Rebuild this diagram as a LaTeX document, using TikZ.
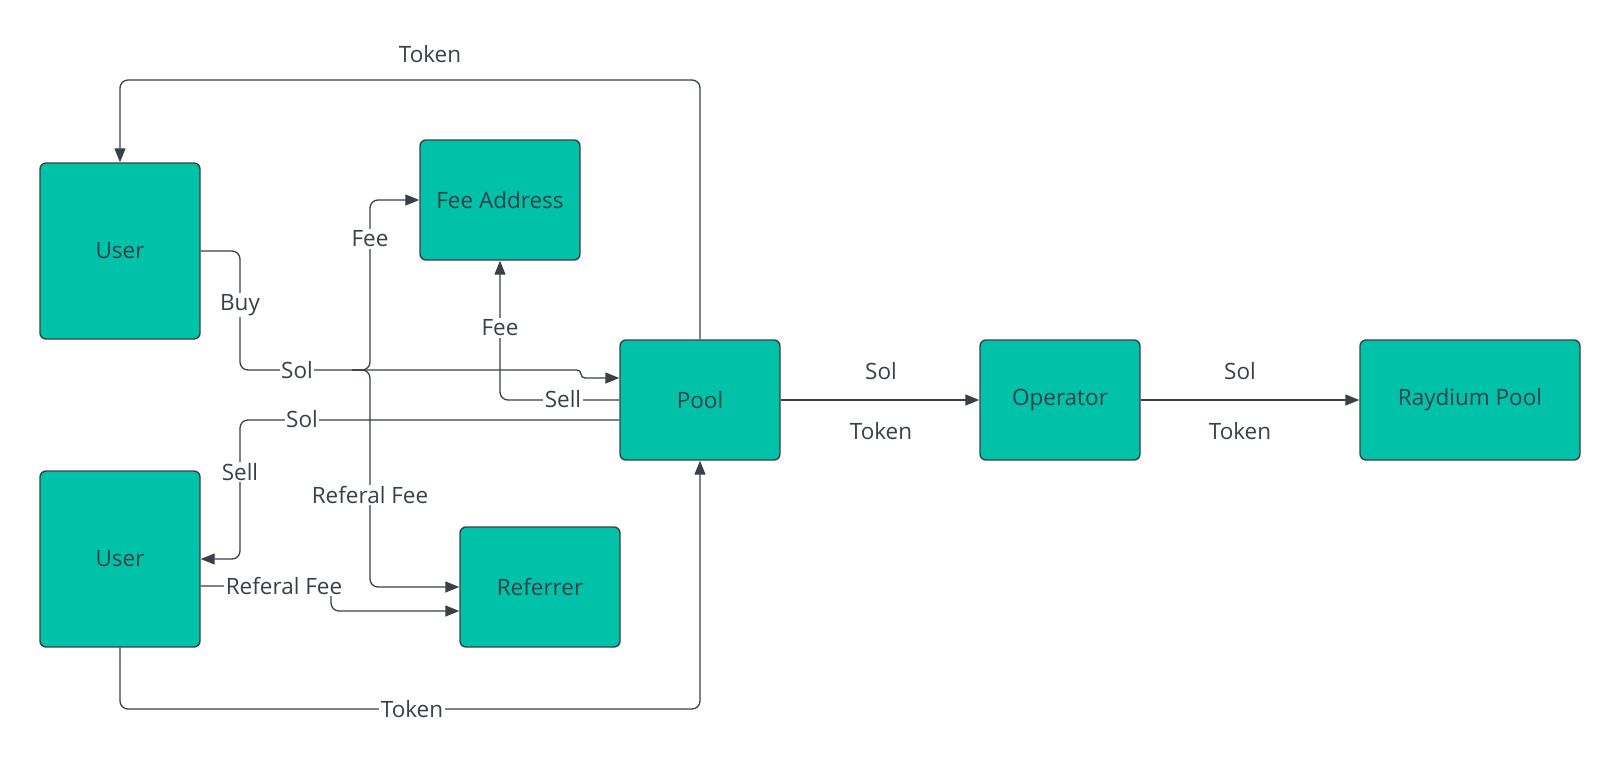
\documentclass[tikz,border=0pt]{standalone}
\usepackage{fontspec}
\setmainfont{Open Sans}
\usetikzlibrary{arrows.meta}
\definecolor{boxfill}{HTML}{00C2A8}
\definecolor{ink}{HTML}{3A404A}
\begin{document}
\begin{tikzpicture}[x=1pt,y=-1pt,
  txt/.style={text=ink, font=\fontsize{22.5}{26}\selectfont},
  box/.style={txt, draw=ink, line width=1.4pt, fill=boxfill, rounded corners=6pt,
    minimum width=160pt, minimum height=120pt, inner sep=0pt},
  flow/.style={draw=ink, line width=1.3pt, rounded corners=8pt,
    -{Triangle[length=14pt,width=11pt]}},
  lbl/.style={txt, fill=white, inner sep=1.5pt},
  plain/.style={txt, inner sep=1pt},
]
\useasboundingbox (0,0) rectangle (1620,764);

% participants
\node[box, minimum height=176pt] (user1) at (120,251) {User};
\node[box, minimum height=176pt] (user2) at (120,559) {User};
\node[box] (fee) at (500,200) {Fee Address};
\node[box] (referrer) at (540,587) {Referrer};
\node[box] (pool) at (700,400) {Pool};
\node[box] (operator) at (1060,400) {Operator};
\node[box, minimum width=220pt] (raydium) at (1470,400) {Raydium Pool};

% token back to the buyer
\draw[flow] (pool.north) -- (700,80) -- (120,80) -- (user1.north);
\node[plain] (ltoktop) at (430,54) {Token};

% buy: sol goes to the pool
\draw[flow] (user1.east) -- (240,251) -- (240,370) [rounded corners=4pt]
  -- (581,370) -- (581,378) -- ([yshift=22pt]pool.west);
\coordinate (fork) at (352,370);

% fee and referral fee split from the buy
\draw[flow] (fork) -- (370,370) -- (370,200) -- (fee.west);
\draw[flow] (fork) -- (370,370) -- (370,587) -- (referrer.west);

% sell: pool pays fee and sol
\draw[flow] (pool.west) -- (500,400) -- (fee.south);
\draw[flow] ([yshift=-20pt]pool.west) -- (240,420) -- (240,559) -- (user2.east);

% referral fee from the seller
\draw[flow] ([yshift=-27pt]user2.east) -- (331,586) -- (331,611)
  -- ([yshift=-24pt]referrer.west);

% token from the seller to the pool
\draw[flow] (user2.south) -- (120,709) -- (700,709) -- (pool.south);

% pool to operator to raydium
\draw[flow] (pool.east) -- (operator.west);
\draw[flow] (operator.east) -- (raydium.west);

% labels on the connectors
\node[lbl] (lbuy) at (240,305) {Buy};
\node[lbl] (lsol1) at (297,370) {Sol};
\node[lbl] (lfee1) at (370,239) {Fee};
\node[lbl] (lfee2) at (500,328) {Fee};
\node[lbl] (lsell1) at (563,399) {Sell};
\node[lbl] (lsol2) at (302,419) {Sol};
\node[lbl] (lsell2) at (240,472) {Sell};
\node[lbl] (lref1) at (370,495) {Referal Fee};
\node[lbl] (lref2) at (284,586) {Referal Fee};
\node[lbl] (ltokbot) at (412,709) {Token};
\node[plain] (lsol3) at (881,371) {Sol};
\node[plain] (ltok3) at (881,431) {Token};
\node[plain] (lsol4) at (1240,371) {Sol};
\node[plain] (ltok4) at (1240,431) {Token};
\end{tikzpicture}
\end{document}
